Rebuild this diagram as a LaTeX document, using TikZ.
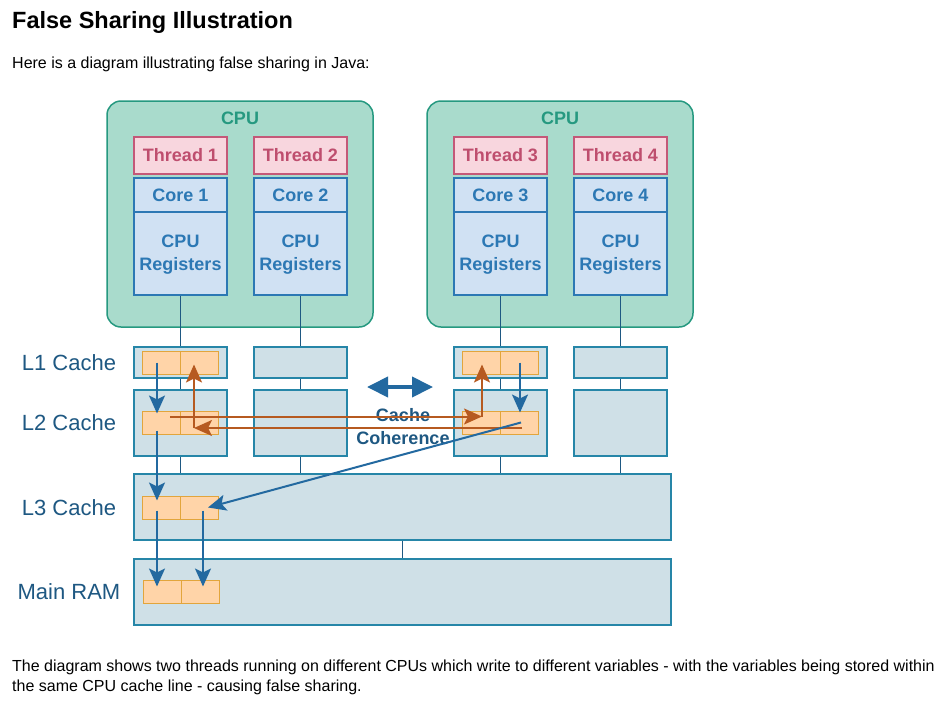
\documentclass[tikz,border=0pt]{standalone}
\usepackage{fontspec}
\setmainfont{Liberation Sans}
\usetikzlibrary{arrows.meta,calc}

\definecolor{cpufill}{RGB}{169,219,204}
\definecolor{cpuline}{RGB}{38,153,128}
\definecolor{thrfill}{RGB}{248,214,222}
\definecolor{thrline}{RGB}{196,88,120}
\definecolor{thrtext}{RGB}{190,78,110}
\definecolor{corefill}{RGB}{208,225,243}
\definecolor{coreline}{RGB}{44,120,180}
\definecolor{cachefill}{RGB}{207,224,231}
\definecolor{cacheline}{RGB}{38,134,168}
\definecolor{cellfill}{RGB}{255,212,168}
\definecolor{cellline}{RGB}{226,165,60}
\definecolor{flowblue}{RGB}{35,105,160}
\definecolor{flowbrown}{RGB}{182,90,32}
\definecolor{labtext}{RGB}{30,88,130}

\tikzset{
  boldtext/.style={font=\fontsize{18}{23}\selectfont\bfseries},
  cpubox/.style={draw=cpuline,fill=cpufill,line width=1.5pt,rounded corners=14pt,
    minimum width=266pt,minimum height=226pt,inner sep=0pt},
  cpulabel/.style={boldtext,text=cpuline},
  thrbox/.style={draw=thrline,fill=thrfill,line width=1.5pt,minimum width=93pt,
    minimum height=37pt,inner sep=0pt,boldtext,text=thrtext},
  corebox/.style={draw=coreline,fill=corefill,line width=1.5pt,minimum width=93pt,
    inner sep=0pt,align=center,boldtext,text=coreline},
  cachebox/.style={draw=cacheline,fill=cachefill,line width=1.5pt,minimum width=93pt,inner sep=0pt},
  cellbox/.style={draw=cellline,fill=cellfill,line width=1pt,minimum width=38pt,
    minimum height=23pt,inner sep=0pt},
  levellabel/.style={text=labtext,font=\fontsize{22}{26}\selectfont},
  link/.style={draw=labtext,line width=1.5pt},
  bluearrow/.style={draw=flowblue,line width=2pt,-{Stealth[length=18pt,width=16pt,inset=4pt]}},
  brownarrow/.style={draw=flowbrown,line width=2pt,-{Stealth[length=18pt,width=16pt,inset=4pt]}}
}

\begin{document}
\begin{tikzpicture}[x=1pt,y=-1pt]
  \useasboundingbox (0,0) rectangle (944,720);
  \fill[white] (0,0) rectangle (944,720);

  % page text
  \node[anchor=base west,inner sep=0pt,font=\fontsize{23.5}{28}\selectfont\bfseries] (title) at (12,28) {False Sharing Illustration};
  \node[anchor=base west,inner sep=0pt,font=\fontsize{16}{19}\selectfont] (intro) at (12,68) {Here is a diagram illustrating false sharing in Java:};
  \node[anchor=base west,inner sep=0pt,font=\fontsize{16}{19}\selectfont] (outroA) at (12,671) {The diagram shows two threads running on different CPUs which write to different variables - with the variables being stored within};
  \node[anchor=base west,inner sep=0pt,font=\fontsize{16}{19}\selectfont] (outroB) at (12,691) {the same CPU cache line - causing false sharing.};

  % the two CPUs
  \path
    (240,214) node[cpubox] (cpuA) {}
    (560,214) node[cpubox] (cpuB) {}
    (240,118) node[cpulabel] (cpuAlab) {CPU}
    (560,118) node[cpulabel] (cpuBlab) {CPU};

  % threads and cores
  \path
    (180.5,155.5) node[thrbox] (t1) {Thread 1}
    (300.5,155.5) node[thrbox] (t2) {Thread 2}
    (500.5,155.5) node[thrbox] (t3) {Thread 3}
    (620.5,155.5) node[thrbox] (t4) {Thread 4}
    (180.5,195) node[corebox,minimum height=34pt] (c1) {Core 1}
    (300.5,195) node[corebox,minimum height=34pt] (c2) {Core 2}
    (500.5,195) node[corebox,minimum height=34pt] (c3) {Core 3}
    (620.5,195) node[corebox,minimum height=34pt] (c4) {Core 4}
    (180.5,253.5) node[corebox,minimum height=83pt] (r1) {}
    (300.5,253.5) node[corebox,minimum height=83pt] (r2) {}
    (500.5,253.5) node[corebox,minimum height=83pt] (r3) {}
    (620.5,253.5) node[corebox,minimum height=83pt] (r4) {}
    (180.5,255) node[boldtext,text=coreline,align=center] (r1txt) {CPU\\Registers}
    (300.5,255) node[boldtext,text=coreline,align=center] (r2txt) {CPU\\Registers}
    (500.5,255) node[boldtext,text=coreline,align=center] (r3txt) {CPU\\Registers}
    (620.5,255) node[boldtext,text=coreline,align=center] (r4txt) {CPU\\Registers};

  % caches and memory
  \path
    (180.5,362.5) node[cachebox,minimum height=31pt] (ca1) {}
    (300.5,362.5) node[cachebox,minimum height=31pt] (ca2) {}
    (500.5,362.5) node[cachebox,minimum height=31pt] (ca3) {}
    (620.5,362.5) node[cachebox,minimum height=31pt] (ca4) {}
    (180.5,423) node[cachebox,minimum height=66pt] (cb1) {}
    (300.5,423) node[cachebox,minimum height=66pt] (cb2) {}
    (500.5,423) node[cachebox,minimum height=66pt] (cb3) {}
    (620.5,423) node[cachebox,minimum height=66pt] (cb4) {}
    (402.5,507) node[cachebox,minimum width=537pt,minimum height=66pt] (l3) {}
    (402.5,592) node[cachebox,minimum width=537pt,minimum height=66pt] (ram) {};

  \path
    (69,363) node[levellabel] (lab1) {L1 Cache}
    (69,423) node[levellabel] (lab2) {L2 Cache}
    (69,508) node[levellabel] (lab3) {L3 Cache}
    (69,592) node[levellabel] (lab4) {Main RAM};

  \begin{scope}[link]
    \draw (r1) to (ca1);
    \draw (r2) to (ca2);
    \draw (r3) to (ca3);
    \draw (r4) to (ca4);
    \draw (ca1) to (cb1);
    \draw (ca2) to (cb2);
    \draw (ca3) to (cb3);
    \draw (ca4) to (cb4);
    \draw (cb1) to (cb1 |- l3.north);
    \draw (cb2) to (cb2 |- l3.north);
    \draw (cb3) to (cb3 |- l3.north);
    \draw (cb4) to (cb4 |- l3.north);
    \draw (l3) to (ram);
  \end{scope}

  % cache line cells
  \path
    (161,362.5) node[cellbox] (x1a) {}
    (199,362.5) node[cellbox] (x1b) {}
    (481,362.5) node[cellbox] (x3a) {}
    (519,362.5) node[cellbox] (x3b) {}
    (161,422.5) node[cellbox] (y1a) {}
    (199,422.5) node[cellbox] (y1b) {}
    (481,422.5) node[cellbox] (y3a) {}
    (519,422.5) node[cellbox] (y3b) {}
    (161,507.5) node[cellbox] (z1) {}
    (199,507.5) node[cellbox] (z2) {}
    (162,591.5) node[cellbox] (m1) {}
    (200,591.5) node[cellbox] (m2) {};

  % coherence
  \node[boldtext,text=labtext,align=center] (coh) at (403,427) {Cache\\Coherence};
  \coordinate (cohL) at (367,387);
  \coordinate (cohR) at (433,387);
  \draw[flowblue,line width=4pt,{Triangle[length=21pt,width=20pt]}-{Triangle[length=21pt,width=20pt]}] (cohL) -- (cohR);

  % writes
  \draw[brownarrow] ($(y1a.center)+(9,-6)$) -- ($(y3a.center)+(1,-6)$);
  \draw[brownarrow] ($(y3a.center)+(1,-6)$) -- ($(x3a.center)+(1,2)$);
  \draw[brownarrow] ($(y3b.center)+(3,5.5)$) -- ($(y1b.center)+(-5,5.5)$);
  \draw[brownarrow] ($(y1b.center)+(-5,5.5)$) -- ($(x1b.center)+(-5,2)$);

  \draw[bluearrow] ($(x1a.center)+(-4,0)$) -- ($(y1a.north)+(-4,3)$);
  \draw[bluearrow] ($(y1a.center)+(-4,8)$) -- ($(z1.north)+(-4,5)$);
  \draw[bluearrow] ($(z1.center)+(-4,3)$) -- ($(m1.north)+(-5,7)$);
  \draw[bluearrow] ($(z2.center)+(4,3)$) -- ($(m2.north)+(3,7)$);
  \draw[bluearrow] ($(x3b.center)+(1,0)$) -- ($(y3b.north)+(1,2)$);
  \draw[bluearrow] ($(y3b.center)+(2,0)$) -- ($(z2.center)+(9,0)$);
\end{tikzpicture}
\end{document}
